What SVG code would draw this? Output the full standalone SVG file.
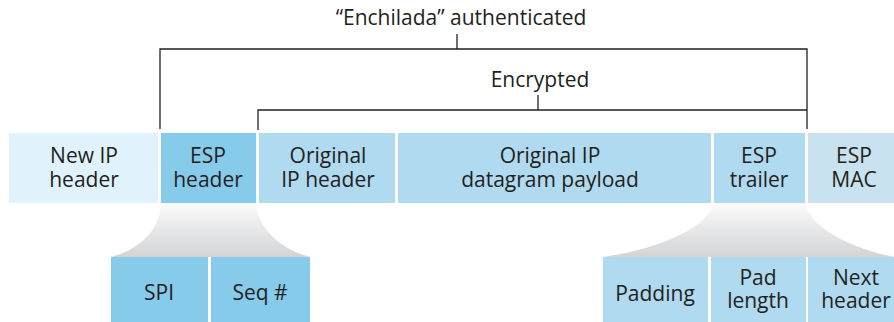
<svg xmlns="http://www.w3.org/2000/svg" width="894" height="322" viewBox="0 0 894 322">
<style>
text{font-family:"Open Sans","Noto Sans","Liberation Sans",sans-serif;font-size:21px;fill:#231f20;text-anchor:middle}
.ln{stroke:#231f20;stroke-width:1.3;fill:none}
</style>
<defs>
<linearGradient id="fan" x1="0" y1="0" x2="0" y2="1">
<stop offset="0" stop-color="#fbfbfb"/>
<stop offset="1" stop-color="#d3d4d6"/>
</linearGradient>
</defs>
<rect width="894" height="322" fill="#fff"/>
<g id="fans">
<path d="M161,203 L256,203 C258,232 285,250 310,257 L111,257 C137,250 160,232 161,203 Z" fill="url(#fan)"/>
<path d="M714,203 L805,203 C812,232 860,250 894,257 L603,257 C650,250 705,232 714,203 Z" fill="url(#fan)"/>
</g>
<g id="connectors">
<path class="ln" d="M160,129 V49 H807 V129"/>
<path class="ln" d="M457,34 V49"/>
<path class="ln" d="M258,130 V110 H807"/>
<path class="ln" d="M538,95 V110"/>
</g>
<g id="labels">
<text x="461" y="25">“Enchilada” authenticated</text>
<text x="540" y="87">Encrypted</text>
</g>
<g id="new-ip-header"><rect x="9" y="133" width="149" height="70" fill="#e0f2fb"/><text x="84" y="163">New IP</text><text x="84" y="187">header</text></g>
<g id="esp-header"><rect x="161" y="133" width="95" height="70" fill="#87cbea"/><text x="208" y="163">ESP</text><text x="208" y="187">header</text></g>
<g id="orig-ip-header"><rect x="259" y="133" width="136" height="70" fill="#b0daef"/><text x="328" y="163">Original</text><text x="328" y="187">IP header</text></g>
<g id="payload"><rect x="398" y="133" width="313" height="70" fill="#b0daef"/><text x="550" y="163">Original IP</text><text x="550" y="187">datagram payload</text></g>
<g id="esp-trailer"><rect x="714" y="133" width="91" height="70" fill="#b0daef"/><text x="759" y="163">ESP</text><text x="759" y="187">trailer</text></g>
<g id="esp-mac"><rect x="808" y="133" width="86" height="70" fill="#c8e2ef"/><text x="854" y="163">ESP</text><text x="854" y="187">MAC</text></g>
<g id="spi"><rect x="111" y="257" width="97" height="65" fill="#87cbea"/><text x="159" y="300">SPI</text></g>
<g id="seq"><rect x="211" y="257" width="99" height="65" fill="#87cbea"/><text x="260" y="300">Seq #</text></g>
<g id="padding"><rect x="603" y="257" width="105" height="65" fill="#b0daef"/><text x="655" y="301">Padding</text></g>
<g id="pad-length"><rect x="711" y="257" width="95" height="65" fill="#b0daef"/><text x="758" y="285">Pad</text><text x="758" y="308">length</text></g>
<g id="next-header"><rect x="808" y="257" width="86" height="65" fill="#b0daef"/><text x="856" y="285">Next</text><text x="856" y="308">header</text></g>
</svg>
